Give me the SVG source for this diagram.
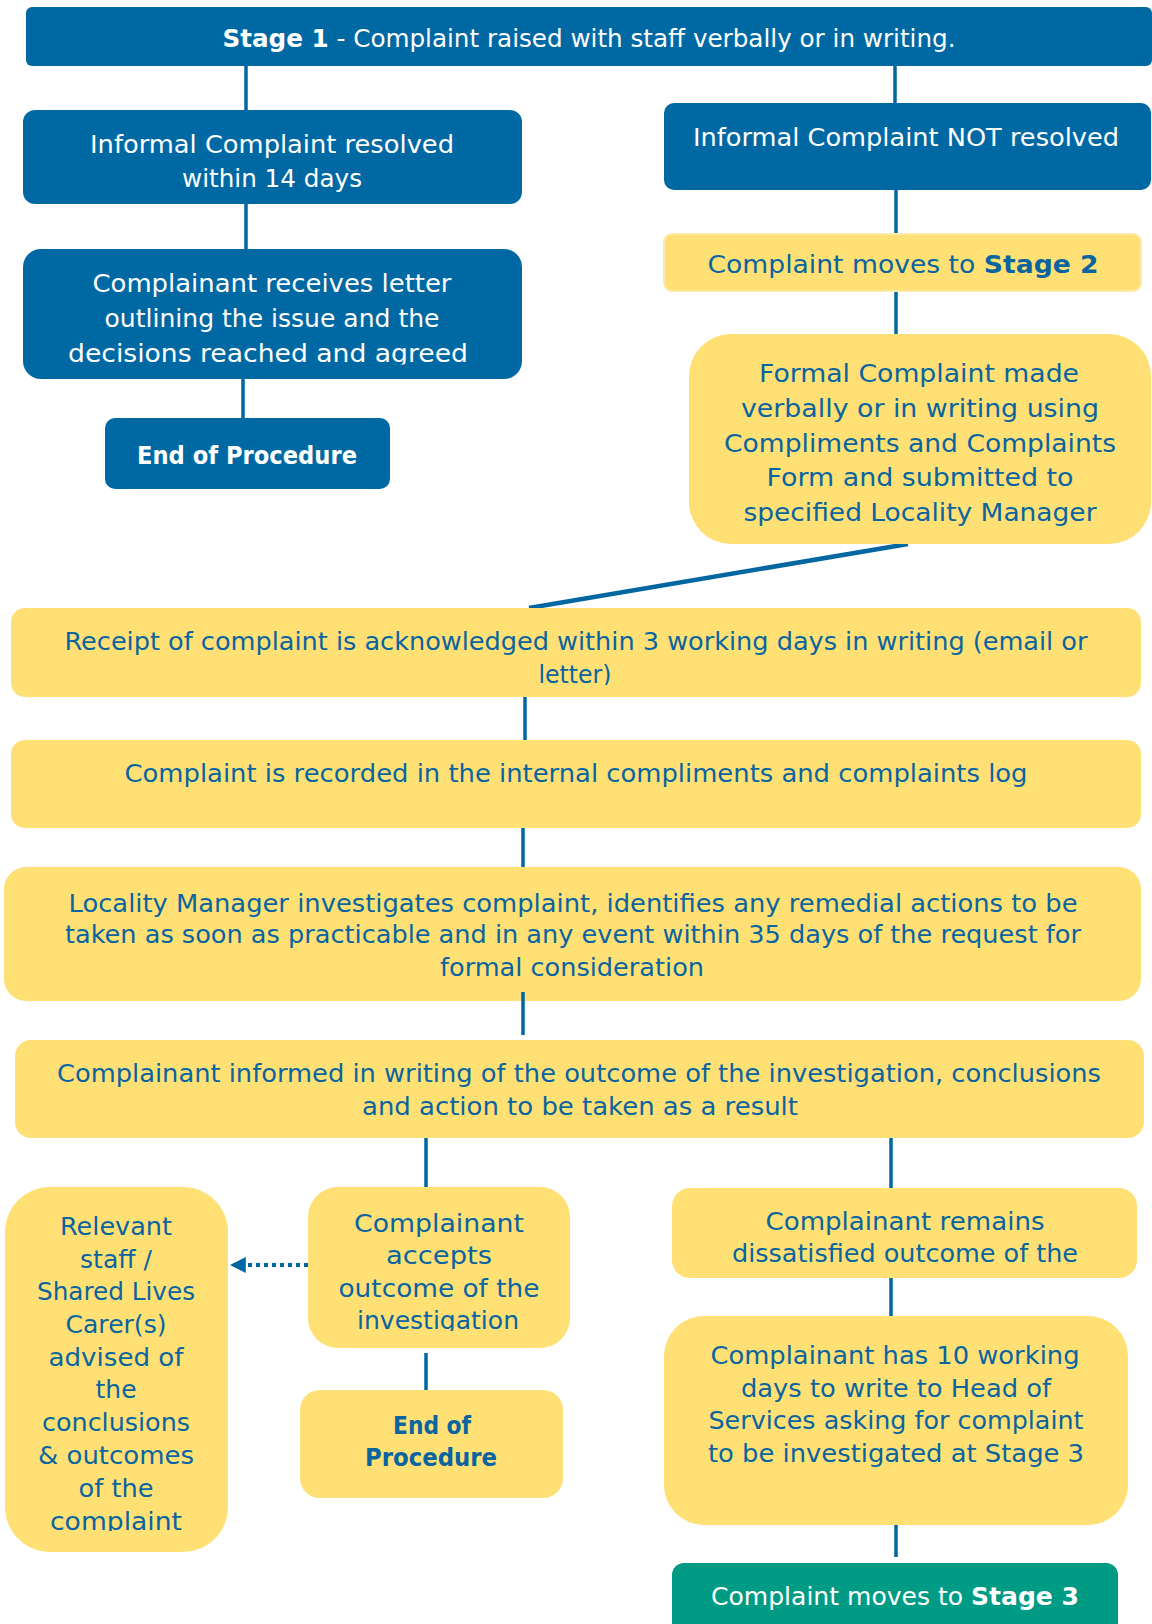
<svg xmlns="http://www.w3.org/2000/svg" width="1152" height="1624" viewBox="0 0 1152 1624">
<style>
.blue{fill:#0069a3}
.yel{fill:#fee074}
.teal{fill:#009b85}
.con{stroke:#0067a3;stroke-width:3.5;fill:none}
.tw{fill:#ffffff;font-family:"DejaVu Sans",sans-serif;font-size:24px}
.ty{fill:#0a64a0;font-family:"DejaVu Sans",sans-serif;font-size:24px}
.tv{fill:#0a64a0;font-family:"DejaVu Sans",sans-serif;font-size:25px}
text{text-anchor:middle}
.b{font-weight:bold}
</style>
<defs>
<marker id="arr" viewBox="0 0 10 10" refX="8" refY="5" markerWidth="16" markerHeight="18" orient="auto" markerUnits="userSpaceOnUse">
<path d="M0,0 L10,5 L0,10 z" fill="#0067a3"/>
</marker>
<clipPath id="c1"><rect x="0" y="0" width="1152" height="364.5"/></clipPath>
<clipPath id="c2"><rect x="0" y="0" width="1152" height="685"/></clipPath>
<clipPath id="c3"><rect x="0" y="0" width="1152" height="1331"/></clipPath>
<clipPath id="c4"><rect x="0" y="0" width="1152" height="1531"/></clipPath>
</defs>

<g id="connectors">
<line class="con" x1="246" y1="66" x2="246" y2="110"/>
<line class="con" x1="895" y1="66" x2="895" y2="103"/>
<line class="con" x1="246" y1="204" x2="246" y2="249"/>
<line class="con" x1="243" y1="379" x2="243" y2="418"/>
<line class="con" x1="896" y1="190" x2="896" y2="234"/>
<line class="con" x1="896" y1="291" x2="896" y2="334"/>
<line class="con" x1="908" y1="544" x2="529" y2="608" style="stroke-width:4.5"/>
<line class="con" x1="525" y1="697" x2="525" y2="740"/>
<line class="con" x1="523" y1="828" x2="523" y2="867"/>
<line class="con" x1="426" y1="1138" x2="426" y2="1187"/>
<line class="con" x1="891" y1="1138" x2="891" y2="1188"/>
<line class="con" x1="426" y1="1353" x2="426" y2="1390"/>
<line class="con" x1="891" y1="1278" x2="891" y2="1316"/>
<line class="con" x1="896" y1="1513" x2="896" y2="1557"/>
<line class="con" x1="308" y1="1265" x2="233" y2="1265" style="stroke-width:4;stroke-dasharray:4 4" marker-end="url(#arr)"/>
</g>

<g id="stage1">
<rect class="blue" x="26" y="7" width="1126" height="59" rx="6"/>
<text class="tw" x="589" y="47" textLength="733" lengthAdjust="spacingAndGlyphs"><tspan class="b">Stage 1</tspan> - Complaint raised with staff verbally or in writing.</text>
</g>

<g id="informal-resolved">
<rect class="blue" x="23" y="110" width="499" height="94" rx="12"/>
<text class="tw" x="272" y="153" textLength="364" lengthAdjust="spacingAndGlyphs">Informal Complaint resolved</text>
<text class="tw" x="272" y="187" textLength="180" lengthAdjust="spacingAndGlyphs">within 14 days</text>
</g>

<g id="informal-not-resolved">
<rect class="blue" x="664" y="103" width="487" height="87" rx="10"/>
<text class="tw" x="906" y="146" textLength="426" lengthAdjust="spacingAndGlyphs">Informal Complaint NOT resolved</text>
</g>

<g id="letter">
<rect class="blue" x="23" y="249" width="499" height="130" rx="18"/>
<text class="tw" x="272" y="292" textLength="359" lengthAdjust="spacingAndGlyphs">Complainant receives letter</text>
<text class="tw" x="272" y="327" textLength="335" lengthAdjust="spacingAndGlyphs">outlining the issue and the</text>
<text class="tw" x="268" y="362" textLength="400" lengthAdjust="spacingAndGlyphs" clip-path="url(#c1)">decisions reached and agreed</text>
</g>

<g id="end1">
<rect class="blue" x="105" y="418" width="285" height="71" rx="10"/>
<text class="tw b" x="247" y="464" textLength="220" lengthAdjust="spacingAndGlyphs">End of Procedure</text>
</g>

<g id="stage2">
<rect class="yel" x="664" y="234" width="477" height="57" rx="8" stroke="#fdeaa8" stroke-width="2"/>
<text class="tv" x="903" y="273" textLength="391" lengthAdjust="spacingAndGlyphs">Complaint moves to <tspan class="b">Stage 2</tspan></text>
</g>

<g id="formal">
<rect class="yel" x="689" y="334" width="462" height="210" rx="42"/>
<text class="tv" x="919" y="382" textLength="320" lengthAdjust="spacingAndGlyphs">Formal Complaint made</text>
<text class="tv" x="920" y="417" textLength="358" lengthAdjust="spacingAndGlyphs">verbally or in writing using</text>
<text class="tv" x="920" y="452" textLength="392" lengthAdjust="spacingAndGlyphs">Compliments and Complaints</text>
<text class="tv" x="920" y="486" textLength="307" lengthAdjust="spacingAndGlyphs">Form and submitted to</text>
<text class="tv" x="920" y="521" textLength="353" lengthAdjust="spacingAndGlyphs">specified Locality Manager</text>
</g>

<g id="receipt">
<rect class="yel" x="11" y="608" width="1130" height="89" rx="14"/>
<text class="ty" x="576" y="650" textLength="1023" lengthAdjust="spacingAndGlyphs">Receipt of complaint is acknowledged within 3 working days in writing (email or</text>
<text class="ty" x="575" y="683" textLength="73" lengthAdjust="spacingAndGlyphs" clip-path="url(#c2)">letter)</text>
</g>

<g id="recorded">
<rect class="yel" x="11" y="740" width="1130" height="88" rx="14"/>
<text class="ty" x="576" y="782" textLength="903" lengthAdjust="spacingAndGlyphs">Complaint is recorded in the internal compliments and complaints log</text>
</g>

<g id="investigates">
<rect class="yel" x="4" y="867" width="1137" height="134" rx="22"/>
<text class="ty" x="573" y="912" textLength="1009" lengthAdjust="spacingAndGlyphs">Locality Manager investigates complaint, identifies any remedial actions to be</text>
<text class="ty" x="573" y="943" textLength="1016" lengthAdjust="spacingAndGlyphs">taken as soon as practicable and in any event within 35 days of the request for</text>
<text class="ty" x="572" y="976" textLength="264" lengthAdjust="spacingAndGlyphs">formal consideration</text>
</g>
<line class="con" x1="523" y1="992" x2="523" y2="1035"/>

<g id="informed">
<rect class="yel" x="15" y="1040" width="1129" height="98" rx="16"/>
<text class="ty" x="579" y="1082" textLength="1044" lengthAdjust="spacingAndGlyphs">Complainant informed in writing of the outcome of the investigation, conclusions</text>
<text class="ty" x="580" y="1115" textLength="436" lengthAdjust="spacingAndGlyphs">and action to be taken as a result</text>
</g>

<g id="relevant-staff">
<rect class="yel" x="5" y="1187" width="223" height="365" rx="45"/>
<text class="ty" x="116" y="1235" textLength="112" lengthAdjust="spacingAndGlyphs">Relevant</text>
<text class="ty" x="116" y="1268" textLength="72" lengthAdjust="spacingAndGlyphs">staff /</text>
<text class="ty" x="116" y="1300" textLength="158" lengthAdjust="spacingAndGlyphs">Shared Lives</text>
<text class="ty" x="116" y="1333" textLength="101" lengthAdjust="spacingAndGlyphs">Carer(s)</text>
<text class="ty" x="116" y="1366" textLength="135" lengthAdjust="spacingAndGlyphs">advised of</text>
<text class="ty" x="116" y="1398" textLength="41" lengthAdjust="spacingAndGlyphs">the</text>
<text class="ty" x="116" y="1431" textLength="148" lengthAdjust="spacingAndGlyphs">conclusions</text>
<text class="ty" x="116" y="1464" textLength="156" lengthAdjust="spacingAndGlyphs">&amp; outcomes</text>
<text class="ty" x="116" y="1497" textLength="75" lengthAdjust="spacingAndGlyphs">of the</text>
<text class="ty" x="116" y="1530" textLength="132" lengthAdjust="spacingAndGlyphs" clip-path="url(#c4)">complaint</text>
</g>

<g id="accepts">
<rect class="yel" x="308" y="1187" width="262" height="161" rx="30"/>
<text class="ty" x="439" y="1232" textLength="170" lengthAdjust="spacingAndGlyphs">Complainant</text>
<text class="ty" x="439" y="1264" textLength="106" lengthAdjust="spacingAndGlyphs">accepts</text>
<text class="ty" x="439" y="1297" textLength="201" lengthAdjust="spacingAndGlyphs">outcome of the</text>
<text class="ty" x="438" y="1329" textLength="162" lengthAdjust="spacingAndGlyphs" clip-path="url(#c3)">investigation</text>
</g>

<g id="end2">
<rect class="yel" x="300" y="1390" width="263" height="108" rx="20"/>
<text class="ty b" x="432" y="1434" textLength="78" lengthAdjust="spacingAndGlyphs">End of</text>
<text class="ty b" x="431" y="1466" textLength="132" lengthAdjust="spacingAndGlyphs">Procedure</text>
</g>

<g id="remains">
<rect class="yel" x="672" y="1188" width="465" height="90" rx="18"/>
<text class="ty" x="905" y="1230" textLength="279" lengthAdjust="spacingAndGlyphs">Complainant remains</text>
<text class="ty" x="905" y="1262" textLength="346" lengthAdjust="spacingAndGlyphs">dissatisfied outcome of the</text>
</g>

<g id="ten-days">
<rect class="yel" x="664" y="1316" width="464" height="209" rx="40"/>
<text class="ty" x="895" y="1364" textLength="369" lengthAdjust="spacingAndGlyphs">Complainant has 10 working</text>
<text class="ty" x="896" y="1397" textLength="310" lengthAdjust="spacingAndGlyphs">days to write to Head of</text>
<text class="ty" x="896" y="1429" textLength="375" lengthAdjust="spacingAndGlyphs">Services asking for complaint</text>
<text class="ty" x="896" y="1462" textLength="376" lengthAdjust="spacingAndGlyphs">to be investigated at Stage 3</text>
</g>

<g id="stage3">
<rect class="teal" x="672" y="1563" width="446" height="75" rx="12"/>
<text class="tw" x="895" y="1605" textLength="368" lengthAdjust="spacingAndGlyphs">Complaint moves to <tspan class="b">Stage 3</tspan></text>
</g>
</svg>
